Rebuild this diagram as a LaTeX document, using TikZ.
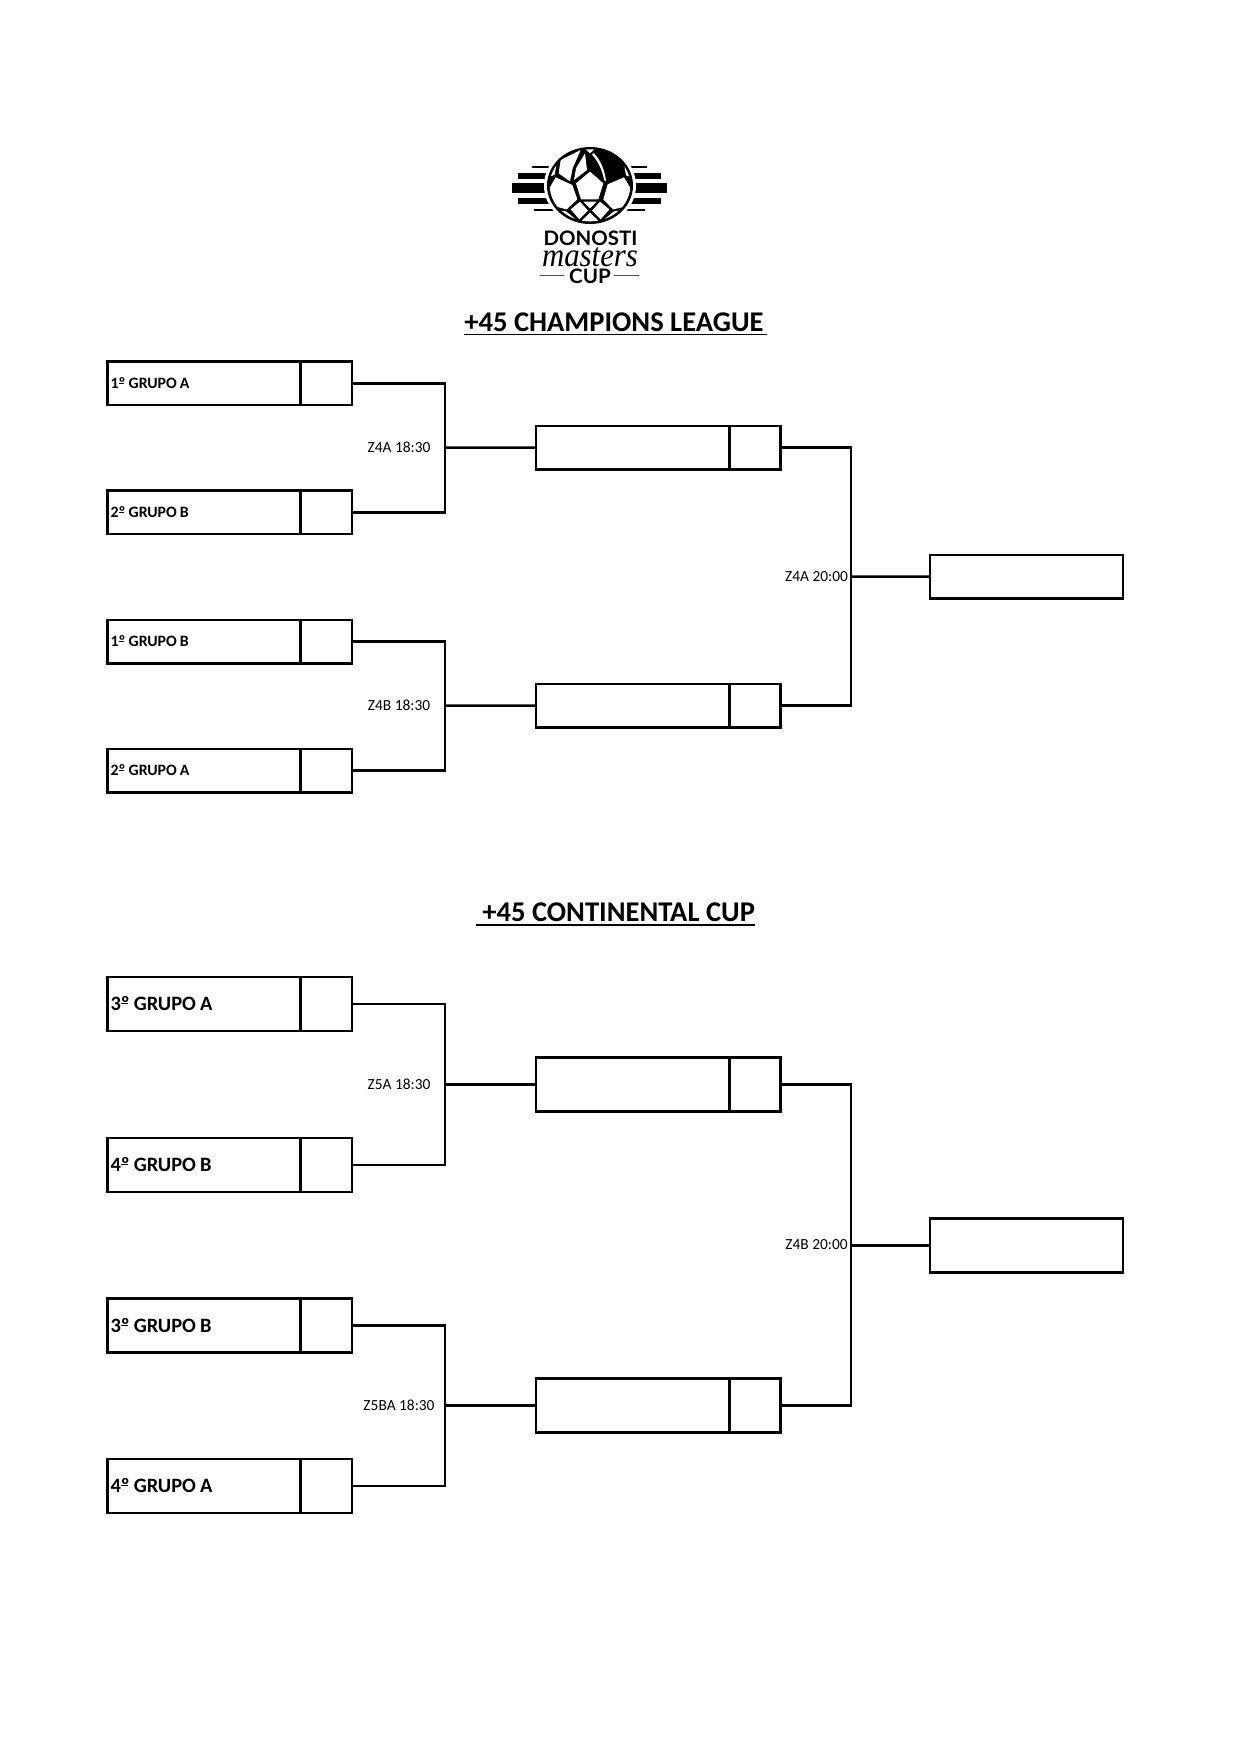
\documentclass[tikz,border=0pt]{standalone}
\usepackage{fontspec}
\usepackage{graphicx}
\setmainfont{Carlito}
\newfontfamily\logofont{Lato}
\newfontfamily\mastersfont{Liberation Serif}
\newcommand{\ordbar}[1]{#1\rlap{\raisebox{0.3em}{\rule{0.34em}{0.055em}}}º}
\tikzset{
  x=0.48pt,y=-0.48pt,
  cell/.style={draw=black,line width=1.25pt,outer sep=0pt,inner sep=0pt},
  link/.style={draw=black,line width=1.25pt,line join=miter},
  title/.style={anchor=base west,inner sep=0pt,font=\fontsize{13.7}{16}\selectfont\bfseries},
  time/.style={inner sep=0pt,font=\fontsize{7.4}{9}\selectfont},
  smalltxt/.style={font=\fontsize{7.6}{9}\selectfont\bfseries},
  bigtxt/.style={font=\fontsize{9.8}{12}\selectfont\bfseries},
  patch/.style={fill=white,draw=none},
}
% id, x-left, y-top, height, style, text
\newcommand{\teamrow}[6]{%
  \node[cell,#5,anchor=north west,minimum width=193.2*0.48pt,minimum height=#4*0.48pt,text width=187*0.48pt,align=left] (#1) at (#2,#3) {\spaceskip=0.2em\relax\raisebox{0.5pt}{#6}};
  \node[cell,anchor=west,minimum width=51.3*0.48pt,minimum height=#4*0.48pt] (#1s) at (#1.east) {};
}
\newcommand{\finalbox}[4]{%
  \node[cell,anchor=north west,minimum width=193*0.48pt,minimum height=#4*0.48pt] (#1) at (#2,#3) {};
}
\begin{document}
\begin{tikzpicture}
\useasboundingbox (0,0) rectangle (1241,1755);
% --- logo
\fill[black] (531.7,166) rectangle (646.7,168);
\fill[black] (518,172.7) rectangle (660.7,179.3);
\fill[black] (512,183.3) rectangle (667,193.3);
\fill[black] (518,197.7) rectangle (660.7,204);
\fill[black] (534,208.7) rectangle (645,210.7);
\fill[white] (590,185.5) ellipse (46 and 41.5);
\fill[black] (590,185.5) ellipse (43 and 38.5);
\begin{scope}[shift={(540,140)},x=0.16pt,y=-0.16pt]
  \clip (150,136) ellipse (121 and 108);
  \fill[patch] (108,130)--(150,95)--(190,130)--(175,178)--(123,178)--cycle;
  \fill[patch] (47,112)--(97,135)--(112,178)--(80,208)--(40,198)--(25,150)--cycle;
  \fill[patch] (203,133)--(252,112)--(275,150)--(262,198)--(220,208)--(190,178)--cycle;
  \fill[patch] (56,100)--(62,60)--(122,30)--(98,85)--(90,124)--cycle;
  \fill[patch] (135,40)--(141,90)--(102,120)--(108,85)--cycle;
  \fill[patch] (128,20)--(172,20)--(150,40)--cycle;
  \fill[patch] (162,40) .. controls (185,65) and (195,95) .. (198,124) -- (192,120) .. controls (188,92) and (175,65) .. (155,42) -- cycle;
  \fill[patch] (30,110)--(50,70)--(44,104)--cycle;
  \fill[patch] (270,110)--(252,72)--(258,106)--cycle;
  \fill[patch] (130,185)--(170,185)--(150,205)--cycle;
  \fill[patch] (92,208)--(120,185)--(144,212)--(118,238)--cycle;
  \fill[patch] (156,212)--(180,185)--(208,208)--(182,238)--cycle;
  \fill[patch] (150,218)--(176,243)--(150,262)--(124,243)--cycle;
  \fill[patch] (78,214)--(112,242)--(70,232)--(55,212)--cycle;
  \fill[patch] (222,214)--(188,242)--(230,232)--(245,212)--cycle;
\end{scope}
\node[inner sep=0pt] (logoa) at (590.5,238.5) {\resizebox{45pt}{7pt}{\logofont\bfseries DONOSTI}};
\node[inner sep=0pt] (logob) at (590,257) {\resizebox{46pt}{9pt}{\mastersfont\itshape masters}};
\node[inner sep=0pt] (logoc) at (590,275.8) {\resizebox{20pt}{7pt}{\logofont\bfseries CUP}};
\draw[line width=0.3pt,black!70] (540,275) -- (564,275) (614,275) -- (639,275);
% --- titles
\node[title] (t1) at (464,331) {+45 CHAMPIONS LEAGUE};
\draw[line width=0.8pt] (464,334.5) -- (767,334.5);
\node[title] (t2) at (482,921) {+45 CONTINENTAL CUP};
\draw[line width=0.8pt] (476,925) -- (755,925);
% --- champions league
\teamrow{a1}{107.5}{361.7}{43.3}{smalltxt}{\ordbar{1} GRUPO A}
\teamrow{a2}{107.5}{490.7}{43.3}{smalltxt}{\ordbar{2} GRUPO B}
\teamrow{a3}{107.5}{620}{43.3}{smalltxt}{\ordbar{1} GRUPO B}
\teamrow{a4}{107.5}{749}{43.3}{smalltxt}{\ordbar{2} GRUPO A}
\teamrow{m1}{536}{426}{43.3}{smalltxt}{}
\teamrow{m2}{536}{684}{43.3}{smalltxt}{}
\finalbox{f1}{930}{555}{43.3}
\coordinate (j1) at (445,447.6);
\coordinate (j2) at (445,705.6);
\coordinate (j3) at (851,576.6);
\draw[link] (a1s.east) -| (j1) |- (a2s.east);
\draw[link] (j1) -- (m1.west);
\draw[link] (a3s.east) -| (j2) |- (a4s.east);
\draw[link] (j2) -- (m2.west);
\draw[link] (m1s.east) -| (j3) |- (m2s.east);
\draw[link] (j3) -- (f1.west);
\node[time] (l1) at (399,447.5) {Z4A 18:30};
\node[time] (l2) at (399,705.5) {Z4B 18:30};
\node[time] (l3) at (816.5,576.5) {Z4A 20:00};
% --- continental cup
\teamrow{b1}{107.5}{977}{54}{bigtxt}{\ordbar{3} GRUPO A}
\teamrow{b2}{107.5}{1138}{54}{bigtxt}{\ordbar{4} GRUPO B}
\teamrow{b3}{107.5}{1298.5}{54}{bigtxt}{\ordbar{3} GRUPO B}
\teamrow{b4}{107.5}{1459}{54}{bigtxt}{\ordbar{4} GRUPO A}
\teamrow{n1}{536}{1057.5}{54}{smalltxt}{}
\teamrow{n2}{536}{1378.5}{54}{smalltxt}{}
\finalbox{f2}{930}{1218.5}{54}
\coordinate (k1) at (445,1084.5);
\coordinate (k2) at (445,1405.5);
\coordinate (k3) at (851,1245.5);
\draw[link] (b1s.east) -| (k1) |- (b2s.east);
\draw[link] (k1) -- (n1.west);
\draw[link] (b3s.east) -| (k2) |- (b4s.east);
\draw[link] (k2) -- (n2.west);
\draw[link] (n1s.east) -| (k3) |- (n2s.east);
\draw[link] (k3) -- (f2.west);
\node[time] (l4) at (399,1084.5) {Z5A 18:30};
\node[time] (l5) at (399,1405.5) {Z5BA 18:30};
\node[time] (l6) at (816.5,1244.5) {Z4B 20:00};
\end{tikzpicture}
\end{document}
